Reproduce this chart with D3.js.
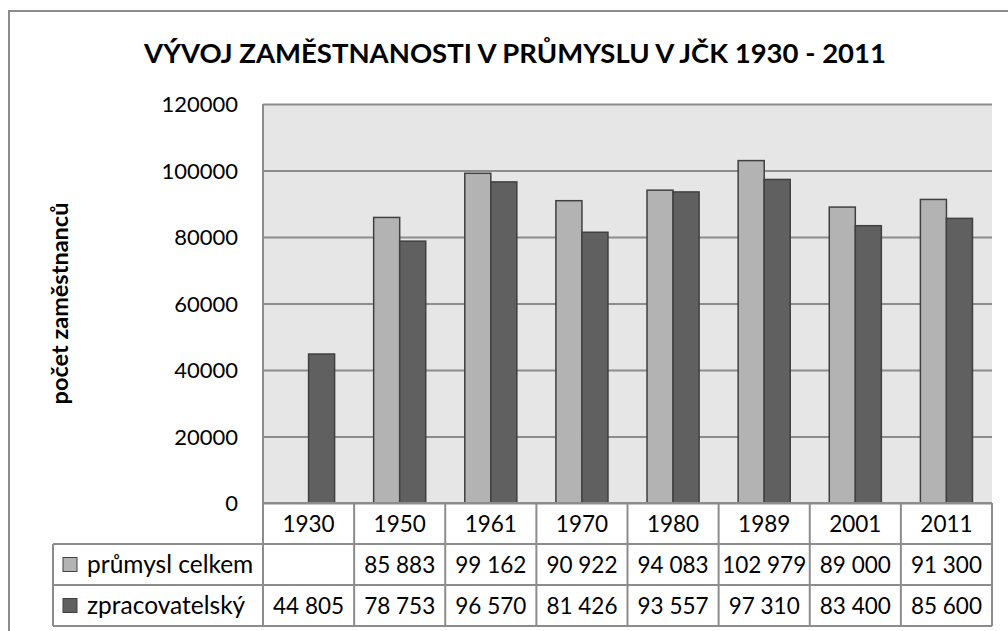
<!DOCTYPE html>
<html>
<head>
<meta charset="utf-8">
<script src="https://cdn.jsdelivr.net/npm/d3@7"></script>
<style>
  body { margin: 0; background: #fff; }
  svg text { font-family: Lato, "Open Sans", sans-serif; fill: #000; }
</style>
</head>
<body>
<div id="chart"></div>
<script>
// —————— DATA
var years = ["1930", "1950", "1961", "1970", "1980", "1989", "2001", "2011"];
var seriesNames = ["průmysl celkem", "zpracovatelský"];
var prumyslCelkem = [null, 85883, 99162, 90922, 94083, 102979, 89000, 91300];
var zpracovatelsky = [44805, 78753, 96570, 81426, 93557, 97310, 83400, 85600];
var yTicks = [0, 20000, 40000, 60000, 80000, 100000, 120000];

var seriesValues = [prumyslCelkem, zpracovatelsky];
var seriesColors = ["#b3b3b3", "#606060"];

// —————— LAYOUT
var W = 1008, H = 631;
var plot = {left: 263, right: 992, top: 104, bottom: 503};
var rowH = 41;
var legendLeft = 53;
var gridCol = "#8c8c8c";

var svg = d3.select("#chart").append("svg")
    .attr("width", W)
    .attr("height", H);

// outer frame
svg.append("rect")
    .attr("x", 9).attr("y", 11)
    .attr("width", W + 20).attr("height", H + 20)
    .attr("fill", "#fff")
    .attr("stroke", gridCol)
    .attr("stroke-width", 2);

// title
svg.append("text")
    .attr("x", 515).attr("y", 63)
    .attr("text-anchor", "middle")
    .style("font-size", "27.5px")
    .style("font-weight", "bold")
    .text("VÝVOJ ZAMĚSTNANOSTI V PRŮMYSLU V JČK 1930 - 2011");

// scales
var x = d3.scaleBand()
    .domain(years)
    .range([plot.left, plot.right])
    .paddingInner(0).paddingOuter(0);

var barW = x.bandwidth() / 3.5; // gap width 150%
var xs = d3.scaleBand()
    .domain(d3.range(seriesNames.length))
    .range([barW * 0.75, x.bandwidth() - barW * 0.75]);

var y = d3.scaleLinear()
    .domain([0, 120000])
    .range([plot.bottom, plot.top]);

// plot background
svg.append("rect")
    .attr("x", plot.left).attr("y", plot.top)
    .attr("width", plot.right - plot.left)
    .attr("height", plot.bottom - plot.top)
    .attr("fill", "#e6e6e6");

// y axis + gridlines
var yAxis = svg.append("g")
    .attr("transform", "translate(" + plot.left + ",0)")
    .call(d3.axisLeft(y).tickValues(yTicks).tickSize(-(plot.right - plot.left)).tickPadding(25).tickFormat(d3.format("d")));
yAxis.select(".domain").remove();
yAxis.selectAll(".tick line").attr("stroke", gridCol).attr("stroke-width", 2);
yAxis.selectAll(".tick text")
    .style("font-size", "22px")
    .attr("dy", "0.36em");

// left axis line
svg.append("line")
    .attr("x1", plot.left).attr("x2", plot.left)
    .attr("y1", plot.top).attr("y2", plot.bottom)
    .attr("stroke", gridCol).attr("stroke-width", 2);

// y axis title
svg.append("text")
    .attr("transform", "translate(68," + ((plot.top + plot.bottom) / 2) + ") rotate(-90)")
    .attr("text-anchor", "middle")
    .style("font-size", "23.5px")
    .style("font-weight", "bold")
    .text("počet zaměstnanců");

// bars
seriesValues.forEach(function(vals, s) {
  svg.append("g")
    .selectAll("rect")
    .data(vals.map(function(v, i) { return {year: years[i], v: v}; }).filter(function(d) { return d.v != null; }))
    .enter()
    .append("rect")
      .attr("x", function(d) { return x(d.year) + xs(s); })
      .attr("y", function(d) { return y(d.v); })
      .attr("width", xs.bandwidth())
      .attr("height", function(d) { return y(0) - y(d.v); })
      .attr("fill", seriesColors[s])
      .attr("stroke", "#404040")
      .attr("stroke-width", 1.5);
});

// —————— DATA TABLE
var table = svg.append("g").attr("class", "table");
var tTop = plot.bottom;
var tBottom = tTop + rowH * 3;

// header row (years)
table.selectAll(".yr")
  .data(years)
  .enter()
  .append("text")
    .attr("x", function(d) { return x(d) + x.bandwidth() / 2; })
    .attr("y", tTop + rowH / 2)
    .attr("dy", "0.36em")
    .attr("text-anchor", "middle")
    .style("font-size", "22.5px")
    .text(function(d) { return d; });

var fmt = function(v) { return v == null ? "" : d3.format(",")(v).replace(/,/g, " "); };

seriesValues.forEach(function(vals, s) {
  var ry = tTop + rowH * (s + 1);
  table.append("g")
    .selectAll("text")
    .data(vals)
    .enter()
    .append("text")
      .attr("x", function(d, i) { return x(years[i]) + x.bandwidth() / 2; })
      .attr("y", ry + rowH / 2)
      .attr("dy", "0.36em")
      .attr("text-anchor", "middle")
      .style("font-size", "22.5px")
      .text(fmt);

  // legend key
  table.append("rect")
    .attr("x", 63).attr("y", ry + rowH / 2 - 7)
    .attr("width", 14).attr("height", 14)
    .attr("fill", seriesColors[s])
    .attr("stroke", "#404040")
    .attr("stroke-width", 1);
  table.append("text")
    .attr("x", 87).attr("y", ry + rowH / 2)
    .attr("dy", "0.36em")
    .style("font-size", "24.5px")
    .text(seriesNames[s]);
});

// table grid lines
var lineStyle = function(sel) { return sel.attr("stroke", gridCol).attr("stroke-width", 2); };
// horizontal
[tTop + rowH, tTop + rowH * 2, tBottom].forEach(function(yy) {
  lineStyle(table.append("line")
    .attr("x1", legendLeft).attr("x2", plot.right)
    .attr("y1", yy).attr("y2", yy));
});
lineStyle(table.append("line")
  .attr("x1", plot.left).attr("x2", plot.right)
  .attr("y1", tTop).attr("y2", tTop));
// vertical
var vx = years.map(function(d) { return x(d); }).concat([plot.right]);
vx.forEach(function(xx) {
  lineStyle(table.append("line")
    .attr("x1", xx).attr("x2", xx)
    .attr("y1", tTop).attr("y2", tBottom));
});
lineStyle(table.append("line")
  .attr("x1", legendLeft).attr("x2", legendLeft)
  .attr("y1", tTop + rowH).attr("y2", tBottom));
</script>
</body>
</html>
